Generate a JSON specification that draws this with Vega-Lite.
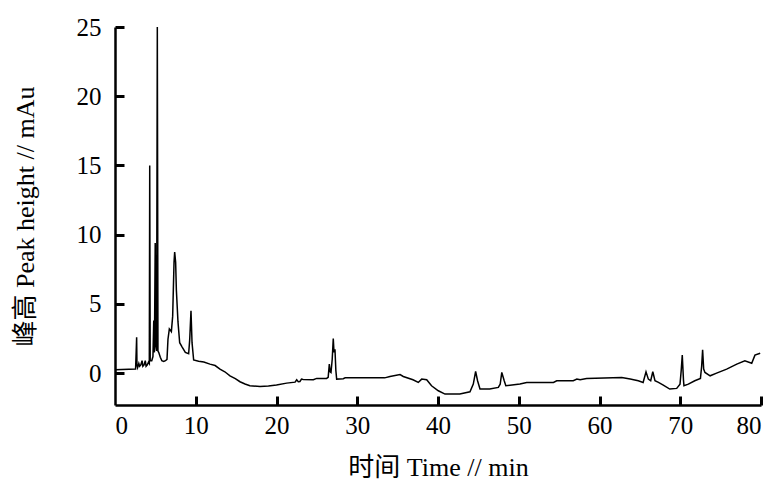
{
  "$schema": "https://vega.github.io/schema/vega-lite/v6.json",
  "width": 646,
  "height": 378,
  "autosize": "none",
  "padding": {"left": 115, "top": 27, "right": 14, "bottom": 90},
  "background": "white",
  "config": {"view": {"stroke": null}},
  "data": {"values": [
    {"t": 0, "v": 0.25}, {"t": 2.55, "v": 0.3}, {"t": 2.62, "v": 1.5}, {"t": 2.68, "v": 2.6}, {"t": 2.72, "v": 0.6},
    {"t": 2.8, "v": 0.4}, {"t": 2.95, "v": 0.7}, {"t": 3.05, "v": 0.5}, {"t": 3.2, "v": 0.6}, {"t": 3.35, "v": 0.9},
    {"t": 3.45, "v": 0.5}, {"t": 3.6, "v": 0.6}, {"t": 3.75, "v": 0.9}, {"t": 3.85, "v": 0.5}, {"t": 4.0, "v": 0.6},
    {"t": 4.15, "v": 0.8}, {"t": 4.25, "v": 0.7}, {"t": 4.3, "v": 15.0}, {"t": 4.36, "v": 0.9}, {"t": 4.55, "v": 0.9},
    {"t": 4.7, "v": 1.2}, {"t": 4.8, "v": 3.8}, {"t": 4.88, "v": 1.5}, {"t": 4.98, "v": 9.4}, {"t": 5.05, "v": 2.0},
    {"t": 5.15, "v": 1.6}, {"t": 5.24, "v": 25}, {"t": 5.32, "v": 1.6}, {"t": 5.41, "v": 1.5}, {"t": 5.61, "v": 1.15},
    {"t": 5.8, "v": 0.9}, {"t": 6.03, "v": 0.85}, {"t": 6.25, "v": 0.9}, {"t": 6.44, "v": 1.0}, {"t": 6.56, "v": 2.45},
    {"t": 6.73, "v": 3.2}, {"t": 6.98, "v": 3.0}, {"t": 7.14, "v": 4.1}, {"t": 7.31, "v": 8.0}, {"t": 7.39, "v": 8.75},
    {"t": 7.51, "v": 8.0}, {"t": 7.6, "v": 6.0}, {"t": 7.8, "v": 3.7}, {"t": 8.01, "v": 2.2}, {"t": 8.3, "v": 1.9},
    {"t": 8.71, "v": 1.5}, {"t": 9.12, "v": 1.4}, {"t": 9.25, "v": 2.4}, {"t": 9.41, "v": 4.5}, {"t": 9.54, "v": 2.2},
    {"t": 9.74, "v": 0.95}, {"t": 10.36, "v": 0.86}, {"t": 11.0, "v": 0.8}, {"t": 11.76, "v": 0.65}, {"t": 12.4, "v": 0.55},
    {"t": 13.0, "v": 0.29}, {"t": 13.6, "v": 0.1}, {"t": 14.24, "v": -0.19}, {"t": 14.9, "v": -0.4}, {"t": 15.48, "v": -0.62},
    {"t": 16.1, "v": -0.78}, {"t": 16.7, "v": -0.91}, {"t": 17.96, "v": -0.96}, {"t": 19.0, "v": -0.93}, {"t": 20.0, "v": -0.86},
    {"t": 21.26, "v": -0.72}, {"t": 22.3, "v": -0.65}, {"t": 22.5, "v": -0.48}, {"t": 22.7, "v": -0.62}, {"t": 22.9, "v": -0.6},
    {"t": 23.1, "v": -0.43}, {"t": 23.3, "v": -0.45}, {"t": 24.56, "v": -0.48}, {"t": 24.98, "v": -0.38}, {"t": 26.2, "v": -0.38},
    {"t": 26.4, "v": -0.3}, {"t": 26.54, "v": 0.65}, {"t": 26.65, "v": 0.1}, {"t": 26.75, "v": 0.05}, {"t": 26.9, "v": 1.0},
    {"t": 27.03, "v": 2.5}, {"t": 27.12, "v": 1.5}, {"t": 27.24, "v": 1.73}, {"t": 27.35, "v": 0.2}, {"t": 27.45, "v": -0.43},
    {"t": 28.27, "v": -0.4}, {"t": 28.5, "v": -0.34}, {"t": 33.4, "v": -0.34}, {"t": 34.05, "v": -0.24}, {"t": 35.3, "v": -0.1},
    {"t": 35.7, "v": -0.24}, {"t": 36.9, "v": -0.48}, {"t": 37.56, "v": -0.67}, {"t": 37.98, "v": -0.43}, {"t": 38.6, "v": -0.48},
    {"t": 39.2, "v": -0.91}, {"t": 40.04, "v": -1.27}, {"t": 40.87, "v": -1.51}, {"t": 42.7, "v": -1.51}, {"t": 43.96, "v": -1.35},
    {"t": 44.37, "v": -0.79}, {"t": 44.66, "v": 0.12}, {"t": 44.9, "v": -0.55}, {"t": 45.2, "v": -1.15}, {"t": 46.4, "v": -1.15},
    {"t": 47.47, "v": -1.03}, {"t": 47.7, "v": -0.8}, {"t": 47.9, "v": 0.05}, {"t": 48.2, "v": -0.55}, {"t": 48.4, "v": -0.91},
    {"t": 50.15, "v": -0.79}, {"t": 50.98, "v": -0.67}, {"t": 54.3, "v": -0.67}, {"t": 54.7, "v": -0.55}, {"t": 56.75, "v": -0.55},
    {"t": 57.2, "v": -0.43}, {"t": 57.6, "v": -0.48}, {"t": 58.4, "v": -0.38}, {"t": 62.75, "v": -0.31}, {"t": 63.8, "v": -0.43},
    {"t": 64.8, "v": -0.55}, {"t": 65.4, "v": -0.67}, {"t": 65.76, "v": 0.1}, {"t": 66.05, "v": -0.43}, {"t": 66.34, "v": -0.55},
    {"t": 66.6, "v": 0.1}, {"t": 66.87, "v": -0.55}, {"t": 67.3, "v": -0.67}, {"t": 67.9, "v": -0.86}, {"t": 68.7, "v": -1.15},
    {"t": 69.56, "v": -1.1}, {"t": 69.97, "v": -0.79}, {"t": 70.12, "v": 0.2}, {"t": 70.25, "v": 1.3}, {"t": 70.4, "v": -0.5},
    {"t": 70.46, "v": -0.91}, {"t": 71.0, "v": -0.79}, {"t": 71.8, "v": -0.55}, {"t": 72.5, "v": -0.38}, {"t": 72.65, "v": 0.5},
    {"t": 72.77, "v": 1.68}, {"t": 72.9, "v": 0.3}, {"t": 73.06, "v": 0.05}, {"t": 73.7, "v": -0.19}, {"t": 74.5, "v": 0.0},
    {"t": 75.75, "v": 0.29}, {"t": 77.0, "v": 0.65}, {"t": 78.0, "v": 0.89}, {"t": 78.85, "v": 0.72}, {"t": 79.25, "v": 1.3},
    {"t": 79.9, "v": 1.44}
  ]},
  "layer": [
    {
      "mark": {"type": "line", "color": "black", "strokeWidth": 1.5, "clip": true},
      "encoding": {
        "x": {
          "field": "t", "type": "quantitative",
          "scale": {"domain": [0, 80], "nice": false, "zero": false},
          "axis": {
            "orient": "bottom",
            "values": [0, 10, 20, 30, 40, 50, 60, 70, 80],
            "grid": false, "domainColor": "black", "domainWidth": 2.5, "ticks": false,
            "labelFont": "Liberation Serif", "labelFontSize": 25, "labelColor": "black", "labelPadding": 8,
            "title": "时间  Time // min", "titleFont": "Liberation Serif, Noto Sans CJK SC", "titleFontSize": 26,
            "titleFontWeight": "normal", "titleColor": "black", "titlePadding": 16
          }
        },
        "y": {
          "field": "v", "type": "quantitative",
          "scale": {"domain": [-2.3, 25], "nice": false, "zero": false},
          "axis": {
            "orient": "left",
            "values": [0, 5, 10, 15, 20, 25],
            "grid": false, "domainColor": "black", "domainWidth": 2.5, "ticks": false,
            "labelFont": "Liberation Serif", "labelFontSize": 25, "labelColor": "black", "labelPadding": 14,
            "title": "峰高  Peak height // mAu", "titleFont": "Liberation Serif, Noto Sans CJK SC", "titleFontSize": 26,
            "titleFontWeight": "normal", "titleColor": "black", "titlePadding": 38
          }
        }
      }
    },
    {
      "mark": {"type": "line", "color": "black", "strokeWidth": 1.5, "strokeOpacity": 0, "clip": true},
      "encoding": {
        "x": {
          "field": "t", "type": "quantitative",
          "axis": {
            "orient": "bottom", "offset": -9,
            "values": [10, 20, 30, 40, 50, 60, 70, 80],
            "grid": false, "domain": false, "labels": false, "title": null,
            "ticks": true, "tickColor": "black", "tickWidth": 3, "tickSize": 9
          }
        },
        "y": {
          "field": "v", "type": "quantitative",
          "axis": {
            "orient": "left", "offset": -9,
            "values": [0, 5, 10, 15, 20, 25],
            "grid": false, "domain": false, "labels": false, "title": null,
            "ticks": true, "tickColor": "black", "tickWidth": 3, "tickSize": 9
          }
        }
      }
    }
  ],
  "resolve": {"axis": {"x": "independent", "y": "independent"}}
}
